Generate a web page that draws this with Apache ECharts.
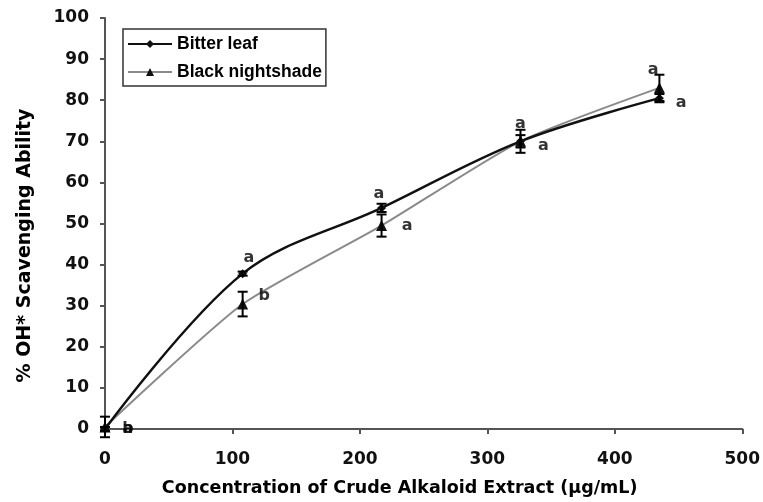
<!DOCTYPE html>
<html><head><meta charset="utf-8">
<script src="https://cdn.jsdelivr.net/npm/echarts@6/dist/echarts.min.js"></script>
<style>html,body{margin:0;padding:0;background:#fff}#c{width:763px;height:502px}</style>
</head><body><div id="c"></div>
<script>
var concentrations = [0, 108, 217, 326, 435];
var bitterLeaf = [0, 37.8, 53.8, 70, 80.5];
var bitterLeafErr = [0.5, 0.5, 1, 1.5, 1];
var blackNightshade = [0.5, 30.4, 49.5, 70, 83];
var blackNightshadeErr = [2.5, 3, 2.7, 2.8, 3.2];
// significance letters (position in data units, text)
var upperLetterX = [18, 113, 215, 326, 430];
var upperLetterY = [0, 41.7, 57.3, 74.3, 87.4];
var upperLetters = ['a', 'a', 'a', 'a', 'a'];
var lowerLetterX = [18, 125, 237, 344, 452];
var lowerLetterY = [0, 32.3, 49.5, 68.9, 79.4];
var lowerLetters = ['b', 'b', 'a', 'a', 'a'];
var xTicks = [0, 100, 200, 300, 400, 500];
var yTicks = [0, 10, 20, 30, 40, 50, 60, 70, 80, 90, 100];

var FONT = 'Liberation Sans, Arial, sans-serif';
var WIDE = 'DejaVu Sans, sans-serif';
function pairs(xs, ys) { return xs.map(function (x, i) { return [x, ys[i]]; }); }
function errData(xs, ys, es) { return xs.map(function (x, i) { return [x, ys[i] - es[i], ys[i] + es[i]]; }); }
function errSeries(data) {
  return {
    type: 'custom', z: 5, silent: true,
    renderItem: function (params, api) {
      var x = api.value(0);
      var lo = api.coord([x, api.value(1)]);
      var hi = api.coord([x, api.value(2)]);
      var w = 5;
      var st = { stroke: '#000', lineWidth: 2 };
      return { type: 'group', children: [
        { type: 'line', shape: { x1: lo[0], y1: lo[1], x2: hi[0], y2: hi[1] }, style: st },
        { type: 'line', shape: { x1: lo[0] - w, y1: lo[1], x2: lo[0] + w, y2: lo[1] }, style: st },
        { type: 'line', shape: { x1: hi[0] - w, y1: hi[1], x2: hi[0] + w, y2: hi[1] }, style: st }
      ]};
    },
    data: data
  };
}
function letterSeries(xs, ys, letters) {
  return {
    type: 'scatter', symbolSize: 0, silent: true, z: 6,
    data: xs.map(function (x, i) { return { value: [x, ys[i]], name: letters[i] }; }),
    label: { show: true, position: 'inside', formatter: '{b}', color: '#000', fontFamily: WIDE, fontWeight: 'bold', fontSize: 16 }
  };
}

var chart = echarts.init(document.getElementById('c'));
chart.setOption({
  animation: false,
  backgroundColor: '#fff',
  grid: { left: 105, right: 18, top: 18, bottom: 72 },
  legend: {
    left: 123, top: 29, orient: 'vertical', itemGap: 10,
    padding: [6, 4, 5, 4],
    borderColor: '#333', borderWidth: 1.5,
    itemWidth: 44, itemHeight: 10,
    textStyle: { fontFamily: FONT, fontWeight: 'bold', fontSize: 17.5, color: '#000' },
    data: ['Bitter leaf', 'Black nightshade']
  },
  xAxis: {
    type: 'value', min: 0, max: 500, interval: 100,
    name: 'Concentration of Crude Alkaloid Extract (µg/mL)',
    nameLocation: 'middle', nameGap: 50,
    nameTextStyle: { fontFamily: WIDE, fontWeight: 'bold', fontSize: 17.5, color: '#000', padding: [0, 48, 0, 0] },
    axisLine: { lineStyle: { color: '#555', width: 2 } },
    axisTick: { show: true, inside: false, length: 5, lineStyle: { color: '#555', width: 2 } },
    axisLabel: { fontFamily: WIDE, fontWeight: 'bold', fontSize: 17, color: '#111', margin: 22, formatter: function (v) { return xTicks.indexOf(v) >= 0 ? String(v) : ''; } },
    splitLine: { show: false }
  },
  yAxis: {
    type: 'value', min: 0, max: 100, interval: 10,
    name: '% OH* Scavenging Ability',
    nameLocation: 'middle', nameGap: 70, nameRotate: 90,
    nameTextStyle: { fontFamily: WIDE, fontWeight: 'bold', fontSize: 19, color: '#000', padding: [0, 44, 0, 0] },
    axisLine: { show: true, lineStyle: { color: '#555', width: 2 } },
    axisTick: { show: true, inside: false, length: 5, lineStyle: { color: '#555', width: 2 } },
    axisLabel: { fontFamily: WIDE, fontWeight: 'bold', fontSize: 17, color: '#111', margin: 16, formatter: function (v) { return yTicks.indexOf(v) >= 0 ? String(v) : ''; } },
    splitLine: { show: false }
  },
  series: [
    {
      name: 'Bitter leaf', type: 'line', smooth: 0.35, z: 4,
      data: pairs(concentrations, bitterLeaf),
      symbol: 'diamond', symbolSize: 9,
      lineStyle: { color: '#111', width: 2.5 },
      itemStyle: { color: '#111' }
    },
    {
      name: 'Black nightshade', type: 'line', smooth: 0.2, z: 3,
      data: pairs(concentrations, blackNightshade),
      symbol: 'triangle', symbolSize: 11,
      lineStyle: { color: '#8a8a8a', width: 2 },
      itemStyle: { color: '#111' }
    },
    errSeries(errData(concentrations, bitterLeaf, bitterLeafErr)),
    errSeries(errData(concentrations, blackNightshade, blackNightshadeErr)),
    letterSeries(upperLetterX, upperLetterY, upperLetters),
    letterSeries(lowerLetterX, lowerLetterY, lowerLetters)
  ]
});
</script></body></html>
